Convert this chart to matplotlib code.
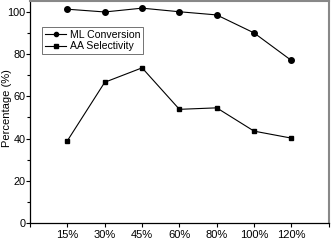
import matplotlib
matplotlib.use('Agg')
import matplotlib.pyplot as plt
from matplotlib.ticker import MultipleLocator

plt.rcParams['font.family'] = ['Liberation Sans', 'DejaVu Sans']

LOADINGS = ['15%', '30%', '45%', '60%', '80%', '100%', '120%']
ML_CONVERSION = [101.1, 99.8, 101.6, 99.9, 98.4, 89.9, 76.9]
AA_SELECTIVITY = [39.0, 66.6, 73.4, 53.8, 54.5, 43.5, 40.2]

fig = plt.figure(figsize=(3.31, 2.40), dpi=100)
ax = fig.add_axes([0.091, 0.07, 0.902, 0.926])

xs = range(1, len(LOADINGS) + 1)
ax.plot(xs, ML_CONVERSION, '-o', color='black', lw=0.8, ms=4, label='ML Conversion')
ax.plot(xs, AA_SELECTIVITY, '-s', color='black', lw=0.8, ms=3.5, label='AA Selectivity')

ax.set_xlim(0, 8)
ax.set_ylim(0, 105)
ax.set_xticks(list(range(0, 9)))
ax.set_xticklabels([''] + LOADINGS + [''])
ax.yaxis.set_major_locator(MultipleLocator(20))
ax.yaxis.set_minor_locator(MultipleLocator(10))
ax.tick_params(axis='both', which='major', direction='out', length=3, width=0.8,
               labelsize=8, pad=2)
ax.tick_params(axis='y', which='major', pad=0.5, labelsize=7.8)
ax.tick_params(axis='y', which='minor', direction='out', length=2, width=0.8)
ax.tick_params(top=False, right=False)

for side in ['left', 'bottom']:
    ax.spines[side].set_color('black')
    ax.spines[side].set_linewidth(0.9)
for side in ['top', 'right']:
    ax.spines[side].set_color('#888888')
    ax.spines[side].set_linewidth(1.5)

ax.set_ylabel('Percentage (%)', fontsize=8)
ax.yaxis.set_label_coords(-0.062, 0.52)

leg = ax.legend(loc='upper left', bbox_to_anchor=(0.04, 0.885), fontsize=7.6,
                frameon=True, fancybox=False, edgecolor='#333333',
                handlelength=2.0, handletextpad=0.3, borderpad=0.3,
                labelspacing=0.15, borderaxespad=0, markerscale=0.75)
leg.get_frame().set_linewidth(0.6)

fig.savefig('out.png', dpi=100)
